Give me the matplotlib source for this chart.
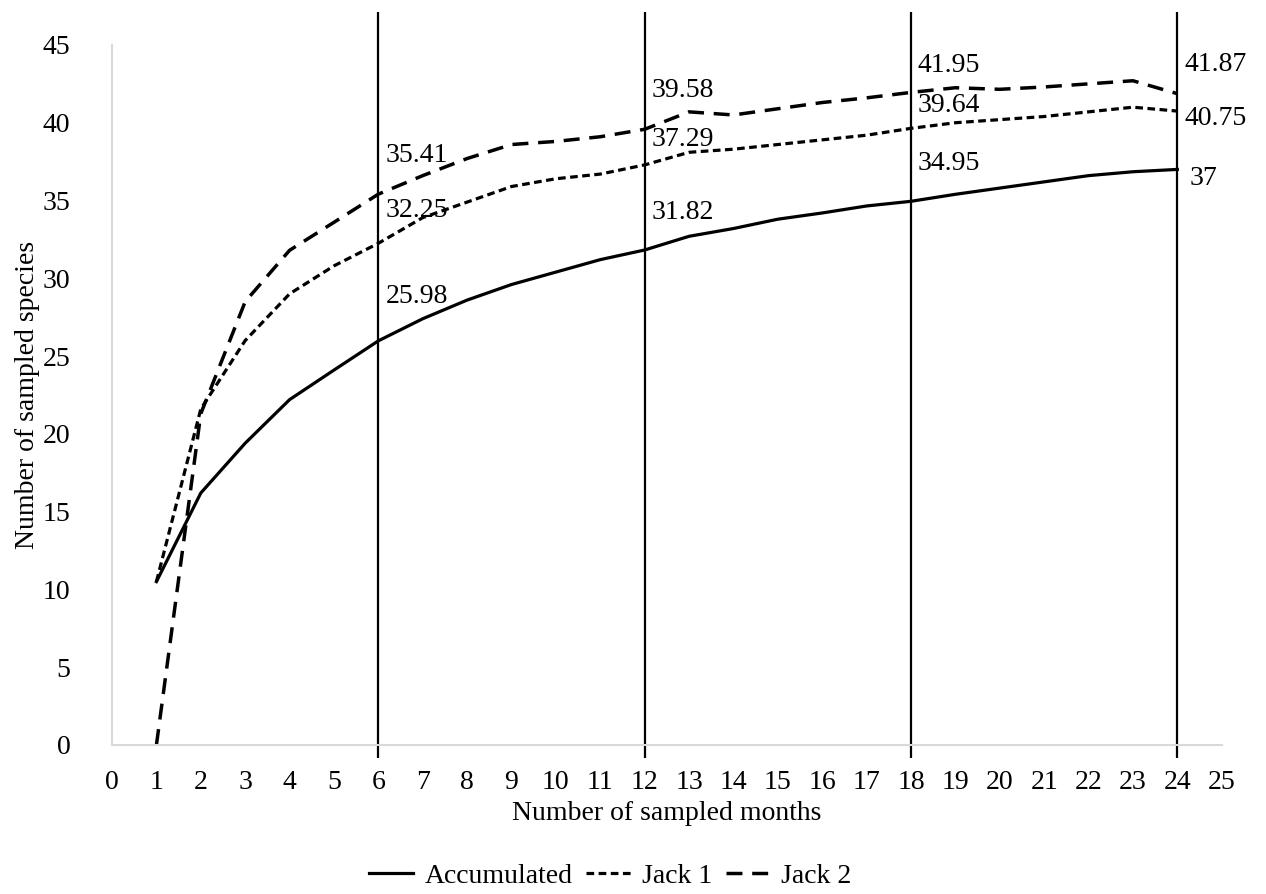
import matplotlib
matplotlib.use("Agg")
import matplotlib.pyplot as plt

plt.rcParams['font.family'] = ['Liberation Serif', 'DejaVu Serif']

months = list(range(1, 25))
accumulated = [10.5, 16.2, 19.4, 22.2, 24.1, 25.98, 27.4, 28.6, 29.6, 30.4, 31.2, 31.82,
               32.7, 33.2, 33.8, 34.2, 34.65, 34.95, 35.4, 35.8, 36.2, 36.6, 36.85, 37.0]
jack1 = [10.5, 21.6, 26.0, 29.0, 30.8, 32.25, 33.9, 34.9, 35.9, 36.4, 36.7, 37.29,
         38.1, 38.3, 38.6, 38.9, 39.2, 39.64, 40.0, 40.2, 40.4, 40.7, 41.0, 40.75]
jack2 = [0.0, 21.3, 28.5, 31.8, 33.6, 35.41, 36.6, 37.7, 38.6, 38.8, 39.1, 39.58,
         40.7, 40.5, 40.9, 41.3, 41.6, 41.95, 42.25, 42.15, 42.3, 42.5, 42.7, 41.87]

cut_months = [6, 12, 18, 24]
# label offsets in pixels above each point at the cut months
label_dy = {
    'acc': [-44, -37, -38, 9],
    'j1': [-33, -25, -23, 7],
    'j2': [-39, -39, -27, -29],
}

fig = plt.figure(figsize=(12.66, 8.94), dpi=100)
ax = fig.add_axes([0.0885, 0.1667, 0.8765, 0.783])

ax.plot(months, accumulated, color='black', lw=2.3, label='Accumulated')
ax.plot(months, jack1, color='black', lw=2.3, dashes=(2.4, 1.4), label='Jack 1')
ax.plot(months, jack2, color='black', lw=2.5, dashes=(4.6, 2.8), label='Jack 2')

ax.vlines(cut_months, -0.85, 47.1, color='black', lw=1.6, clip_on=False)

for key, series in (('acc', accumulated), ('j1', jack1), ('j2', jack2)):
    for m, dy in zip(cut_months, label_dy[key]):
        v = series[m - 1]
        dx = 12 if (m == 24 and key == 'acc') else 7
        ax.annotate('%g' % v, (m, v), xytext=(dx, -dy), textcoords='offset pixels',
                    ha='left', va='center', fontsize=20)

ax.set_xlim(0, 25)
ax.set_ylim(0, 45)
ax.set_xticks(range(0, 26))
ax.set_yticks(range(0, 46, 5))
ax.tick_params(axis='both', length=0, labelsize=20)
ax.tick_params(axis='x', pad=18)
ax.tick_params(axis='y', pad=30)

for s in ('top', 'right'):
    ax.spines[s].set_visible(False)
for s in ('left', 'bottom'):
    ax.spines[s].set_color('#d9d9d9')
    ax.spines[s].set_linewidth(1.5)

ax.set_xlabel('Number of sampled months', fontsize=20, labelpad=4)
ax.set_ylabel('Number of sampled species', fontsize=20, labelpad=2)

fig.legend(loc='lower center', bbox_to_anchor=(0.482, -0.022), ncol=3, frameon=False,
           fontsize=20, handlelength=1.6, columnspacing=0.5, handletextpad=0.4)

fig.savefig('out.png', dpi=100)
